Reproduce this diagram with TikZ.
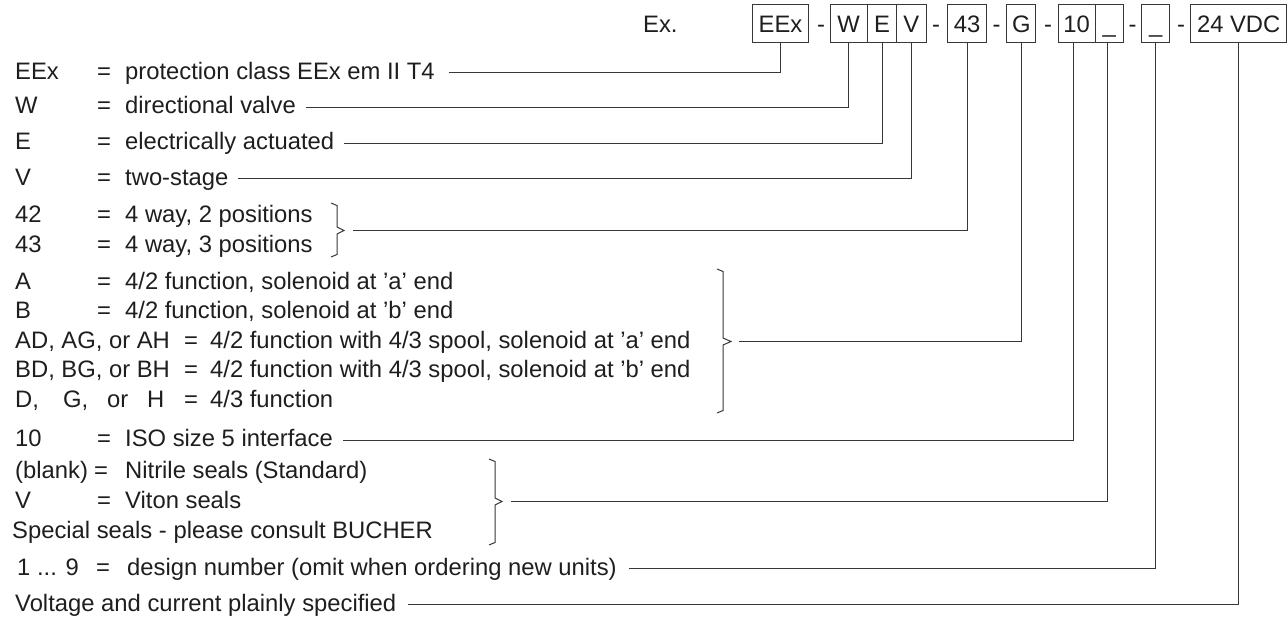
\documentclass[tikz,border=0pt]{standalone}
\usepackage{fontspec}
\setmainfont{Liberation Sans}
\usetikzlibrary{calc}
\definecolor{ink}{RGB}{30,30,30}
\definecolor{lin}{RGB}{55,55,55}
\newcommand{\fnt}{\fontsize{23.8}{28}\selectfont}
\begin{document}
\begin{tikzpicture}[x=1pt,y=-1pt,
  txt/.style={inner sep=0pt, anchor=base west, text=ink, font=\fnt},
  eqs/.style={inner sep=0pt, anchor=base, text=ink, font=\fnt},
  box/.style={draw=lin, line width=1pt, inner sep=0pt, minimum height=38pt,
              text height=18pt, text depth=0pt, text=ink, font=\fnt},
  hyph/.style={inner sep=0pt, anchor=base, text=ink, font=\fnt},
  conn/.style={draw=lin, line width=1pt},
  brc/.style={draw=lin, line width=1pt, line join=miter}
]
\useasboundingbox (0,0) rectangle (1288,618);

% ---------- top code row ----------
\node[txt] (ex) at (643,33) {Ex.};
\node[box, minimum width=55.6pt] (bEEx) at (780.5,24) {EEx};
\node[hyph] (h1) at (821,33) {-};
\node[box, minimum width=37.3pt] (bW) at (848.7,24) {W};
\node[box, minimum width=29.4pt] (bE) at (882,24) {E};
\node[box, minimum width=29.3pt] (bV) at (911.4,24) {V};
\node[hyph] (h2) at (936,33) {-};
\node[box, minimum width=39.4pt] (b43) at (967,24) {43};
\node[hyph] (h3) at (996.7,33) {-};
\node[box, minimum width=29.3pt] (bG) at (1021.3,24) {G};
\node[hyph] (h4) at (1048,33) {-};
\node[box, minimum width=36.7pt] (b10) at (1076.7,24) {10};
\node[box, minimum width=28.3pt] (bS) at (1109.2,24) {\_};
\node[hyph] (h5) at (1132.5,33) {-};
\node[box, minimum width=28.3pt] (bD) at (1155.8,24) {\_};
\node[hyph] (h6) at (1181,33) {-};
\node[box, minimum width=96pt] (bU) at (1238.7,24) {24 VDC};

% ---------- list ----------
\node[txt] (lEEx) at (15,79.5) {EEx};
\node[eqs] (qEEx) at (104,79.5) {=};
\node[txt] (dEEx) at (125,79.5) {protection class EEx em II T4};

\node[txt] (lW) at (15,113.5) {W};
\node[eqs] (qW) at (104,113.5) {=};
\node[txt] (dW) at (125,113.5) {directional valve};

\node[txt] (lE) at (15,149.5) {E};
\node[eqs] (qE) at (104,149.5) {=};
\node[txt] (dE) at (125,149.5) {electrically actuated};

\node[txt] (lV) at (15,185) {V};
\node[eqs] (qV) at (104,185) {=};
\node[txt] (dV) at (125,185) {two-stage};

\node[txt] (l42) at (15,222) {42};
\node[eqs] (q42) at (104,222) {=};
\node[txt] (d42) at (125,222) {4 way, 2 positions};
\node[txt] (l43) at (15,252) {43};
\node[eqs] (q43) at (104,252) {=};
\node[txt] (d43) at (125,252) {4 way, 3 positions};

\node[txt] (lA) at (15,289) {A};
\node[eqs] (qA) at (104,289) {=};
\node[txt] (dA) at (125,289) {4/2 function, solenoid at 'a' end};
\node[txt] (lB) at (15,318.5) {B};
\node[eqs] (qB) at (104,318.5) {=};
\node[txt] (dB) at (125,318.5) {4/2 function, solenoid at 'b' end};
\node[txt] (lAD) at (15,348) {AD, AG, or AH};
\node[eqs] (qAD) at (191,348) {=};
\node[txt] (dAD) at (210,348) {4/2 function with 4/3 spool, solenoid at 'a' end};
\node[txt] (lBD) at (15,377.5) {BD, BG, or BH};
\node[eqs] (qBD) at (191,377.5) {=};
\node[txt] (dBD) at (210,377.5) {4/2 function with 4/3 spool, solenoid at 'b' end};
\node[txt] (lD1) at (15,407) {D,};
\node[txt] (lD2) at (63,407) {G,};
\node[txt] (lD3) at (107,407) {or};
\node[txt] (lD4) at (147,407) {H};
\node[eqs] (qD) at (191,407) {=};
\node[txt] (dD) at (210,407) {4/3 function};

\node[txt] (l10) at (15,446.5) {10};
\node[eqs] (q10) at (104,446.5) {=};
\node[txt] (d10) at (125,446.5) {ISO size 5 interface};

\node[txt] (lbl) at (15,478) {(blank)};
\node[eqs] (qbl) at (101,478) {=};
\node[txt] (dbl) at (125,478) {Nitrile seals (Standard)};
\node[txt] (lvi) at (15,508) {V};
\node[eqs] (qvi) at (104,508) {=};
\node[txt] (dvi) at (125,508) {Viton seals};
\node[txt] (lsp) at (12,538) {Special seals - please consult BUCHER};

\node[txt] (l19) at (17,575) {1 ... 9};
\node[eqs] (q19) at (103,575) {=};
\node[txt] (d19) at (127,575) {design number (omit when ordering new units)};

\node[txt] (lvo) at (15,611) {Voltage and current plainly specified};

% ---------- braces ----------
\draw[brc] (331,203) -- (337,205.5) -- (337,227) -- (344,230.5) -- (337,234) -- (337,254.5) -- (331,257);
\coordinate (t42) at (344,230.5);
\draw[brc] (717,269) -- (723,271.5) -- (723,338) -- (731,341.5) -- (723,345) -- (723,410.5) -- (717,413);
\coordinate (tAD) at (731,341.5);
\draw[brc] (489,459) -- (495,461.5) -- (495,498) -- (502,501.5) -- (495,505) -- (495,542.5) -- (489,545);
\coordinate (tse) at (502,501.5);

% ---------- connectors ----------
\draw[conn] ($(dEEx.base east)+(14,-6.5)$) -| (bEEx.south);
\draw[conn] ($(dW.base east)+(10,-6.5)$) -| (bW.south);
\draw[conn] ($(dE.base east)+(10,-6.5)$) -| (bE.south);
\draw[conn] ($(dV.base east)+(9,-6.5)$) -| (bV.south);
\draw[conn] ($(t42)+(9,0)$) -| (b43.south);
\draw[conn] ($(tAD)+(8,0)$) -| (bG.south);
\draw[conn] ($(d10.base east)+(10,-6.5)$) -| ([xshift=-3pt]b10.south);
\draw[conn] ($(tse)+(9,0)$) -| ([xshift=-2pt]bS.south);
\draw[conn] ($(d19.base east)+(12,-6.5)$) -| (bD.south);
\draw[conn] ($(lvo.base east)+(12,-6.5)$) -| (bU.south);
\end{tikzpicture}
\end{document}
